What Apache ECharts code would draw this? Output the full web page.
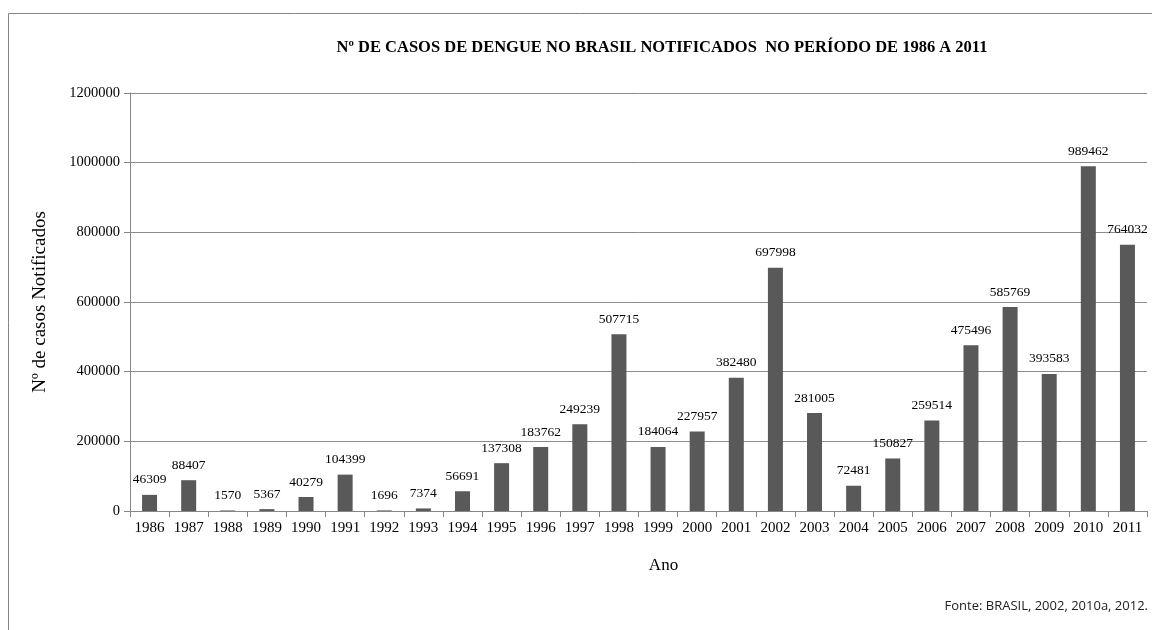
<!DOCTYPE html>
<html>
<head>
<meta charset="utf-8">
<script src="https://cdn.jsdelivr.net/npm/echarts@6/dist/echarts.min.js"></script>
<style>
    html, body { margin: 0; padding: 0; background: #fff; }
    #chart { width: 1152px; height: 630px; }
</style>
</head>
<body>
<div id="chart"></div>
<script>
// anos e casos notificados
var anos = ['1986', '1987', '1988', '1989', '1990', '1991', '1992', '1993', '1994', '1995',
    '1996', '1997', '1998', '1999', '2000', '2001', '2002', '2003', '2004', '2005',
    '2006', '2007', '2008', '2009', '2010', '2011'];
var casos = [46309, 88407, 1570, 5367, 40279, 104399, 1696, 7374, 56691, 137308,
    183762, 249239, 507715, 184064, 227957, 382480, 697998, 281005, 72481, 150827,
    259514, 475496, 585769, 393583, 989462, 764032];

var serif = '"Liberation Serif", "DejaVu Serif", serif';

var myChart = echarts.init(document.getElementById('chart'));
var option = {
    backgroundColor: '#fff',
    animation: false,
    title: {
        text: 'Nº DE CASOS DE DENGUE NO BRASIL NOTIFICADOS  NO PERÍODO DE 1986 A 2011',
        left: 657,
        top: 34,
        textAlign: 'center',
        textStyle: {
            fontFamily: serif,
            fontSize: 16.5,
            fontWeight: 'bold',
            color: '#000'
        }
    },
    grid: {
        left: 130,
        right: 5,
        top: 93,
        bottom: 119
    },
    xAxis: {
        type: 'category',
        data: anos,
        name: 'Ano',
        nameLocation: 'middle',
        nameGap: 46,
        nameTextStyle: { fontFamily: serif, fontSize: 17, color: '#000', padding: [0, 0, 0, 50] },
        axisLine: { lineStyle: { color: '#868686' } },
        axisTick: { show: true, length: 6, lineStyle: { color: '#868686' } },
        axisLabel: { fontFamily: serif, fontSize: 15, color: '#000', margin: 10, interval: 0 }
    },
    yAxis: {
        type: 'value',
        min: 0,
        max: 1200000,
        interval: 200000,
        name: 'Nº de casos Notificados',
        nameLocation: 'middle',
        nameGap: 80,
        nameRotate: 90,
        nameTextStyle: { fontFamily: serif, fontSize: 19, color: '#000' },
        axisLine: { show: true, lineStyle: { color: '#868686' } },
        axisTick: { show: true, length: 6, lineStyle: { color: '#868686' } },
        splitLine: { lineStyle: { color: '#8c8c8c', width: 1 } },
        axisLabel: {
            fontFamily: serif, fontSize: 14.5, color: '#000', margin: 10,
            formatter: function (v) { return String(v); }
        }
    },
    graphic: [
        {
            // moldura da figura
            type: 'rect',
            shape: { x: 8.5, y: 13.5, width: 1160, height: 640 },
            style: { fill: 'none', stroke: '#858585', lineWidth: 1 },
            silent: true
        },
        {
            type: 'text',
            right: 4,
            top: 600,
            style: {
                text: 'Fonte: BRASIL, 2002, 2010a, 2012.',
                font: '13px "Open Sans", "DejaVu Sans", sans-serif',
                fill: '#222'
            }
        }
    ],
    series: [
        {
            type: 'bar',
            data: casos,
            barWidth: 15,
            itemStyle: { color: '#595959' },
            label: {
                show: true,
                position: 'top',
                distance: 8,
                fontFamily: serif,
                fontSize: 13.5,
                color: '#000'
            }
        }
    ]
};
myChart.setOption(option);
</script>
</body>
</html>
